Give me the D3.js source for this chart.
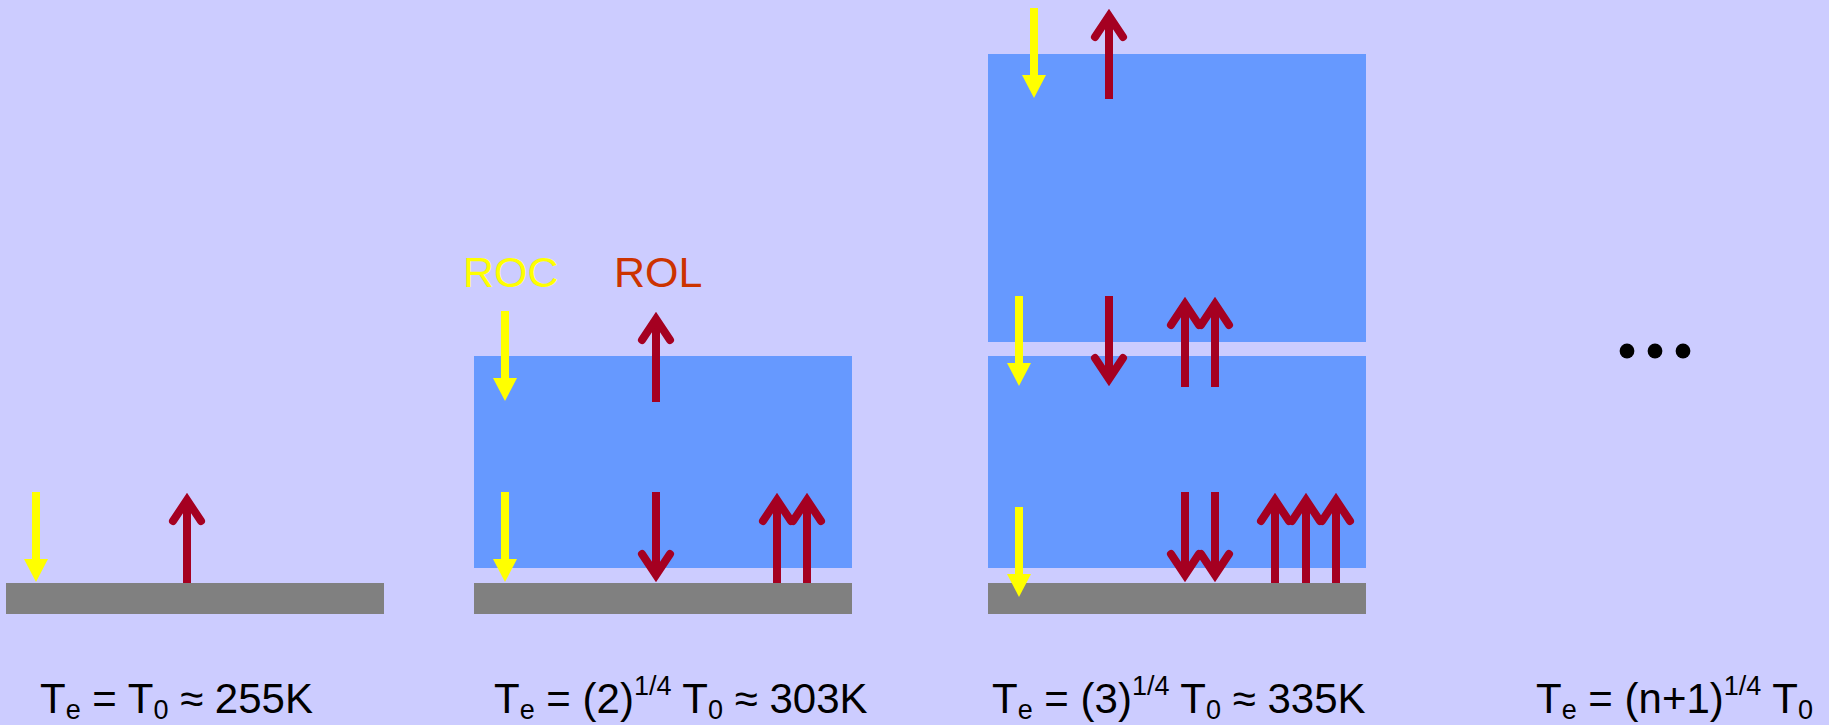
<!DOCTYPE html>
<html>
<head>
<meta charset="utf-8">
<script src="https://cdn.jsdelivr.net/npm/d3@7"></script>
<style>
  html, body { margin: 0; padding: 0; background: #ccccff; }
  svg { display: block; }
</style>
</head>
<body>
<svg id="chart" width="1829" height="725"></svg>
<script>
// ---------------- data ----------------
// panels: 0 = no atmosphere, 1 = one layer, 2 = two layers, 3 = n layers (text only)
const panelNames = ["surface", "one layer", "two layers", "n layers"];
// atmospheric layers per panel: [bottom height, top height] above the surface
const layerBounds = [
  [],
  [[15, 227]],
  [[15, 227], [241, 529]]
];
// shortwave (ROC) arrows, pointing down: panel, offset in panel, start height, end height
const swArrows = [
  {panel: 0, x: 30,  from: 91,  to: 1},
  {panel: 1, x: 31,  from: 272, to: 182},
  {panel: 1, x: 31,  from: 91,  to: 1},
  {panel: 2, x: 46,  from: 575, to: 485},
  {panel: 2, x: 31,  from: 287, to: 197},
  {panel: 2, x: 31,  from: 76,  to: -14}
];
// longwave (ROL) arrows: panel, offset in panel, start height, end height (direction from -> to)
const lwArrows = [
  {panel: 0, x: 181, from: 0,   to: 90},
  {panel: 1, x: 182, from: 181, to: 271},
  {panel: 1, x: 182, from: 91,  to: 1},
  {panel: 1, x: 303, from: 0,   to: 90},
  {panel: 1, x: 333, from: 0,   to: 90},
  {panel: 2, x: 121, from: 484, to: 574},
  {panel: 2, x: 121, from: 287, to: 197},
  {panel: 2, x: 197, from: 196, to: 286},
  {panel: 2, x: 227, from: 196, to: 286},
  {panel: 2, x: 197, from: 91,  to: 1},
  {panel: 2, x: 227, from: 91,  to: 1},
  {panel: 2, x: 287, from: 0,   to: 90},
  {panel: 2, x: 318, from: 0,   to: 90},
  {panel: 2, x: 348, from: 0,   to: 90}
];
const fluxLabels = ["ROC", "ROL"];
const dotCount = [0, 1, 2];
// bottom formulas: pieces of [text, kind] with kind n=normal, sub, sup
const formulas = [
  [["T","n"],["e","sub"],[" = T","n"],["0","sub"],[" ≈ 255K","n"]],
  [["T","n"],["e","sub"],[" = (2)","n"],["1/4","sup"],[" T","n"],["0","sub"],[" ≈ 303K","n"]],
  [["T","n"],["e","sub"],[" = (3)","n"],["1/4","sup"],[" T","n"],["0","sub"],[" ≈ 335K","n"]],
  [["T","n"],["e","sub"],[" = (n+1)","n"],["1/4","sup"],[" T","n"],["0","sub"]]
];

// ---------------- layout ----------------
const W = 1829, H = 725;
const layout = {
  panelLeft: [6, 474, 988, 1536],
  panelWidth: 378,
  groundDepth: 31,
  labelLeft: [40, 494, 992, 1536],
  labelBaseline: 713,
  fluxLabelX: [463, 614],
  fluxLabelBaseline: 287,
  dotsX0: 1627, dotsDx: 28, dotsY: 351, dotR: 7.4
};
const colors = {
  bg: "#ccccff", layer: "#6699ff", ground: "#808080",
  sw: "#ffff00", lw: "#a50021", rolText: "#cc3300", text: "#000000"
};

const svg = d3.select("#chart");
svg.append("rect").attr("width", W).attr("height", H).attr("fill", colors.bg);

// scales
const y = d3.scaleLinear().domain([0, 583]).range([583, 0]);
const px = d3.scaleOrdinal().domain([0, 1, 2, 3]).range(layout.panelLeft);
const xIn = d3.scaleLinear().domain([0, layout.panelWidth]).range([0, layout.panelWidth]);
const X = (panel, off) => px(panel) + xIn(off);

// ground
svg.append("g").selectAll("rect").data([0, 1, 2]).join("rect")
  .attr("x", d => px(d))
  .attr("y", y(0))
  .attr("width", xIn(layout.panelWidth))
  .attr("height", y(-layout.groundDepth) - y(0))
  .attr("fill", colors.ground);

// layers
const layers = [];
layerBounds.forEach((ls, p) => ls.forEach(b => layers.push({panel: p, b0: b[0], b1: b[1]})));
svg.append("g").selectAll("rect").data(layers).join("rect")
  .attr("x", d => px(d.panel))
  .attr("y", d => y(d.b1))
  .attr("width", xIn(layout.panelWidth))
  .attr("height", d => y(d.b0) - y(d.b1))
  .attr("fill", colors.layer);

// shortwave arrows (yellow, filled triangle head)
const headLen = 23, headHalf = 12, shaft = 8;
const gSW = svg.append("g");
swArrows.forEach(a => {
  const cx = X(a.panel, a.x);
  const y0 = y(a.from), y1 = y(a.to);
  const dir = Math.sign(y1 - y0);
  gSW.append("rect")
    .attr("x", cx - shaft / 2)
    .attr("y", Math.min(y0, y1 - dir * headLen))
    .attr("width", shaft)
    .attr("height", Math.abs((y1 - dir * headLen) - y0) + 0.5)
    .attr("fill", colors.sw);
  gSW.append("path")
    .attr("d", `M${cx - headHalf},${y1 - dir * headLen} L${cx + headHalf},${y1 - dir * headLen} L${cx},${y1} Z`)
    .attr("fill", colors.sw);
});

// longwave arrows (red, open chevron head)
const gLW = svg.append("g");
lwArrows.forEach(a => {
  const cx = X(a.panel, a.x);
  const y0 = y(a.from), y1 = y(a.to);
  const dir = Math.sign(y1 - y0);
  gLW.append("line")
    .attr("x1", cx).attr("x2", cx)
    .attr("y1", y0).attr("y2", y1 - dir * 6)
    .attr("stroke", colors.lw).attr("stroke-width", 8);
  gLW.append("path")
    .attr("d", `M${cx - 14},${y1 - dir * 28} L${cx},${y1 - dir * 7} L${cx + 14},${y1 - dir * 28}`)
    .attr("fill", "none")
    .attr("stroke", colors.lw).attr("stroke-width", 8)
    .attr("stroke-linecap", "round").attr("stroke-linejoin", "miter");
});

// ROC / ROL labels
svg.append("g").selectAll("text").data(fluxLabels).join("text")
  .attr("x", (d, i) => layout.fluxLabelX[i])
  .attr("y", layout.fluxLabelBaseline)
  .attr("font-family", "'Liberation Sans', Arial, sans-serif")
  .attr("font-size", 43)
  .attr("fill", (d, i) => i === 0 ? colors.sw : colors.rolText)
  .text(d => d);

// dots
svg.append("g").selectAll("circle").data(dotCount).join("circle")
  .attr("cx", d => layout.dotsX0 + d * layout.dotsDx)
  .attr("cy", layout.dotsY)
  .attr("r", layout.dotR)
  .attr("fill", colors.text);

// formulas
const gF = svg.append("g")
  .attr("font-family", "'Liberation Sans', Arial, sans-serif")
  .attr("fill", colors.text);
formulas.forEach((parts, i) => {
  const t = gF.append("text")
    .attr("x", layout.labelLeft[i])
    .attr("y", layout.labelBaseline)
    .attr("font-size", 42);
  let shift = 0;
  parts.forEach(([s, k]) => {
    const target = k === "sub" ? 6 : (k === "sup" ? -18 : 0);
    t.append("tspan")
      .attr("dy", target - shift)
      .attr("font-size", k === "n" ? 42 : 27)
      .text(s);
    shift = target;
  });
});
</script>
</body>
</html>
